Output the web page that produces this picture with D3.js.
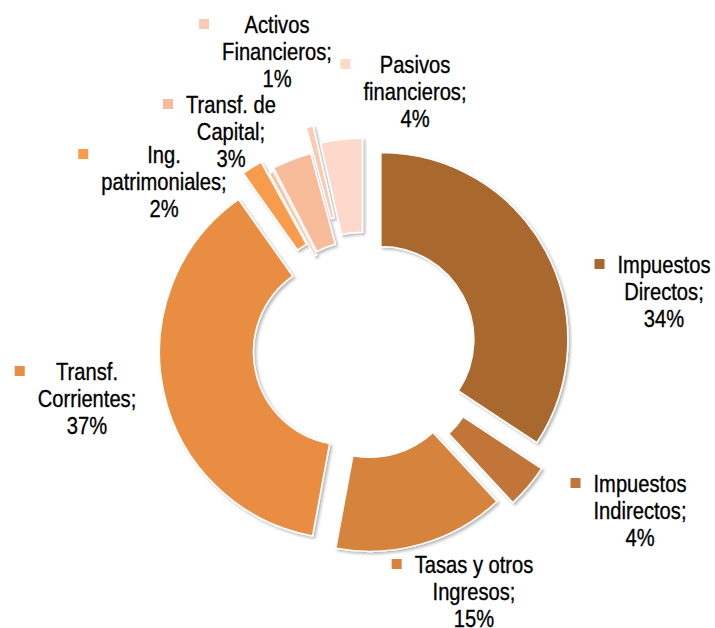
<!DOCTYPE html>
<html>
<head>
<meta charset="utf-8">
<script src="https://cdn.jsdelivr.net/npm/d3@7"></script>
<style>
  body { margin: 0; background: #fff; }
  text { font-family: "Liberation Sans", Arial, sans-serif; font-size: 24px; fill: #000; stroke: #000; stroke-width: 0.35px; }
</style>
</head>
<body>
<div id="chart"></div>
<script>
// data
const categories = ["Impuestos Directos", "Impuestos Indirectos", "Tasas y otros Ingresos", "Transf. Corrientes",
    "Ing. patrimoniales", "", "Transf. de Capital", "Activos Financieros", "Pasivos financieros"]
const values = [34.3, 3.8, 14.8, 37.3, 1.8, 0.4, 3.4, 0.6, 3.6]

// styles
const colors = ["#a9672f", "#c17538", "#d5833e", "#e88d43", "#f79b4d", "#f8c3a3", "#f8bc9a", "#f9cbb3", "#fcd9ca"]
const explode = [18, 27, 17, 19, 26, 12, 15, 41, 23]
const labelPos = [[664, 273], [640, 492], [474, 573], [87, 380], [164, 163], null, [231, 113], [277, 33], [415, 73]]

const width = 715
const height = 628
const center = {x: 365, y: 348}
const outerR = 187
const innerR = 93
const lineH = 27
const squeeze = 0.84   // narrow font look

const svg = d3.select("#chart").append("svg").attr("width", width).attr("height", height)

const defs = svg.append("defs")
const shadow = defs.append("filter").attr("id", "shadow")
    .attr("x", "-20%").attr("y", "-20%").attr("width", "140%").attr("height", "140%")
shadow.append("feDropShadow").attr("dx", 2).attr("dy", 2).attr("stdDeviation", 1.5)
    .attr("flood-color", "#000").attr("flood-opacity", 0.28)

const myData = categories.map((c, i) => ({name: c, value: values[i], i: i}))
const total = d3.sum(values)

const pie = d3.pie().sort(null).value(d => d.value)
const arc = d3.arc().innerRadius(innerR).outerRadius(outerR)
const arcs = pie(myData)

const slices = svg.append("g").attr("transform", `translate(${center.x}, ${center.y})`)

slices.selectAll("path").data(arcs).enter().append("path")
    .attr("d", arc)
    .attr("fill", d => colors[d.data.i])
    .attr("stroke", "#fff")
    .attr("stroke-width", 1.5)
    .attr("filter", "url(#shadow)")
    .attr("transform", d => {
        const a = (d.startAngle + d.endAngle) / 2
        const e = explode[d.data.i]
        return `translate(${Math.sin(a) * e}, ${-Math.cos(a) * e})`
    })

// labels
const fmt = d3.format(".0%")
const labels = svg.append("g")

arcs.forEach(d => {
    const pos = labelPos[d.data.i]
    if (!pos) return
    const name = d.data.name
    const k = name.lastIndexOf(" ")
    const lines = [name.slice(0, k), name.slice(k + 1) + ";", fmt(d.data.value / total)]
    const g = labels.append("g").attr("transform", `translate(${pos[0]}, ${pos[1]})`)
    const txt = g.append("text").attr("text-anchor", "middle")
        .attr("transform", `scale(${squeeze}, 1)`)
    lines.forEach((l, j) => {
        txt.append("tspan").attr("x", 0).attr("y", j * lineH).text(l)
    })
    let maxW = 0
    txt.selectAll("tspan").each(function() { maxW = Math.max(maxW, this.getComputedTextLength()) })
    maxW *= squeeze
    g.append("rect")
        .attr("x", -maxW / 2 - 13 - 10)
        .attr("y", -14)
        .attr("width", 10).attr("height", 10)
        .attr("fill", colors[d.data.i])
})
</script>
</body>
</html>
